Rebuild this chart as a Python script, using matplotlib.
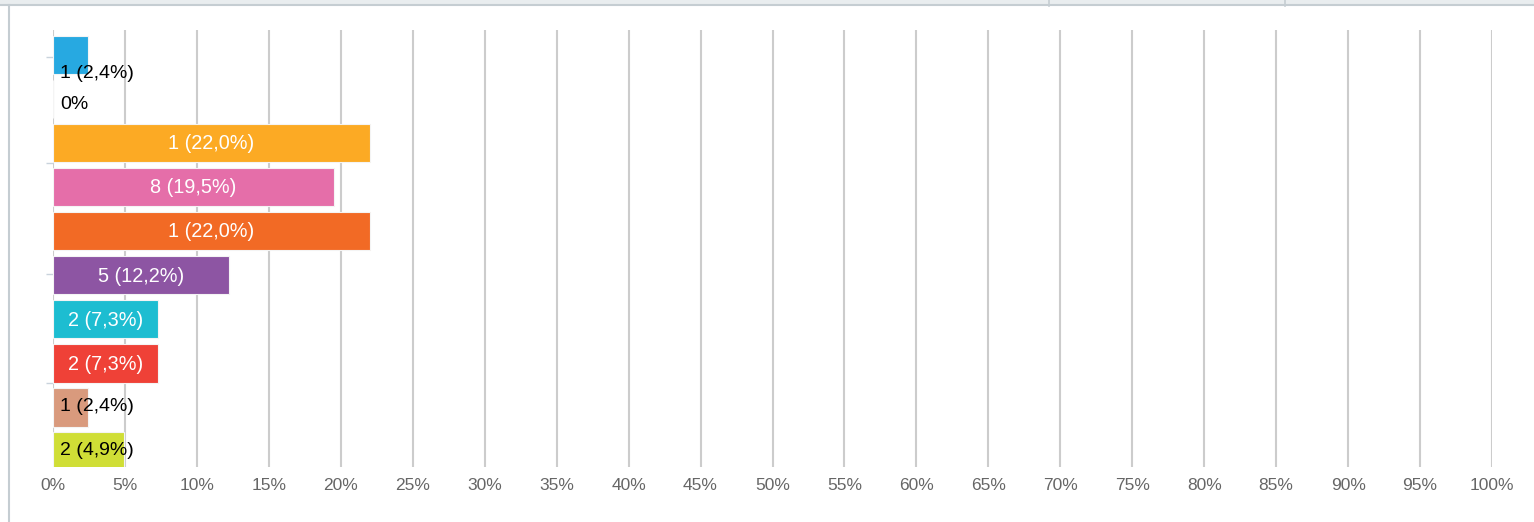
import numpy as np
import matplotlib.pyplot as plt
from matplotlib.lines import Line2D

plt.rcParams['font.family'] = ['Liberation Sans', 'DejaVu Sans']

# one row per answer, top to bottom
counts = [1, 0, 1, 8, 1, 5, 2, 2, 1, 2]
percents = [2.4, 0.0, 22.0, 19.5, 22.0, 12.2, 7.3, 7.3, 2.4, 4.9]
colors = ['#27a9e1', '#ffffff', '#fcaa24', '#e56ea9', '#f26a25',
          '#8d55a3', '#1dbdd1', '#ef4137', '#d99a7d', '#d0de36']
xticks = np.arange(0, 101, 5)

fig = plt.figure(figsize=(15.34, 5.22), dpi=100)
ax = fig.add_axes([53 / 1534, 55 / 522, 1439 / 1534, 437 / 522])

y = np.arange(len(percents))
ax.barh(y, percents, height=0.88, color=colors, edgecolor='#f4f4f4',
        linewidth=0.8, zorder=3)

for i, (c, p) in enumerate(zip(counts, percents)):
    if p == 0:
        ax.text(0.5, i + 0.13, '0%', va='center', ha='left', fontsize=14,
                color='black', zorder=4)
    elif p < 6:
        dy = 0.42 if i == 0 else -0.02
        ax.text(0.5, i + dy, f'{c} ({p:.1f}%)'.replace('.', ','), va='center',
                ha='left', fontsize=14, color='black', zorder=4)
    else:
        ax.text(p / 2, i + 0.02, f'{c} ({p:.1f}%)'.replace('.', ','),
                va='center', ha='center', fontsize=14.3, color='white', zorder=4)

ax.set_xlim(0, 100)
ax.set_ylim(9.36, -0.57)
ax.set_xticks(xticks)
ax.set_xticklabels([f'{t}%' for t in xticks], fontsize=12.5, color='#666666')
ax.tick_params(axis='x', length=0, pad=8)
ax.set_yticks([0.05, 2.45, 4.98, 7.45])
ax.set_yticklabels([])
ax.tick_params(axis='y', length=5, width=1, color='#c9d3dc')
ax.grid(axis='x', color='#cccccc', linewidth=1.5, zorder=0)
for s in ax.spines.values():
    s.set_visible(False)

# page frame around the chart
fig.patches.append(plt.Rectangle((0, 1 - 4 / 522), 1, 4 / 522, transform=fig.transFigure,
                                 color='#e9edef', zorder=0))
fig.lines.append(Line2D([0, 1], [1 - 5 / 522] * 2, transform=fig.transFigure,
                        color='#c5cdd2', linewidth=1.5))
fig.lines.append(Line2D([9 / 1534] * 2, [0, 1 - 5 / 522], transform=fig.transFigure,
                        color='#c5cdd2', linewidth=1.5))
for xp in [1049, 1285]:
    fig.lines.append(Line2D([xp / 1534] * 2, [1, 1 - 6 / 522], transform=fig.transFigure,
                            color='#c5cdd2', linewidth=1.2))

fig.savefig('out.png', dpi=100)
